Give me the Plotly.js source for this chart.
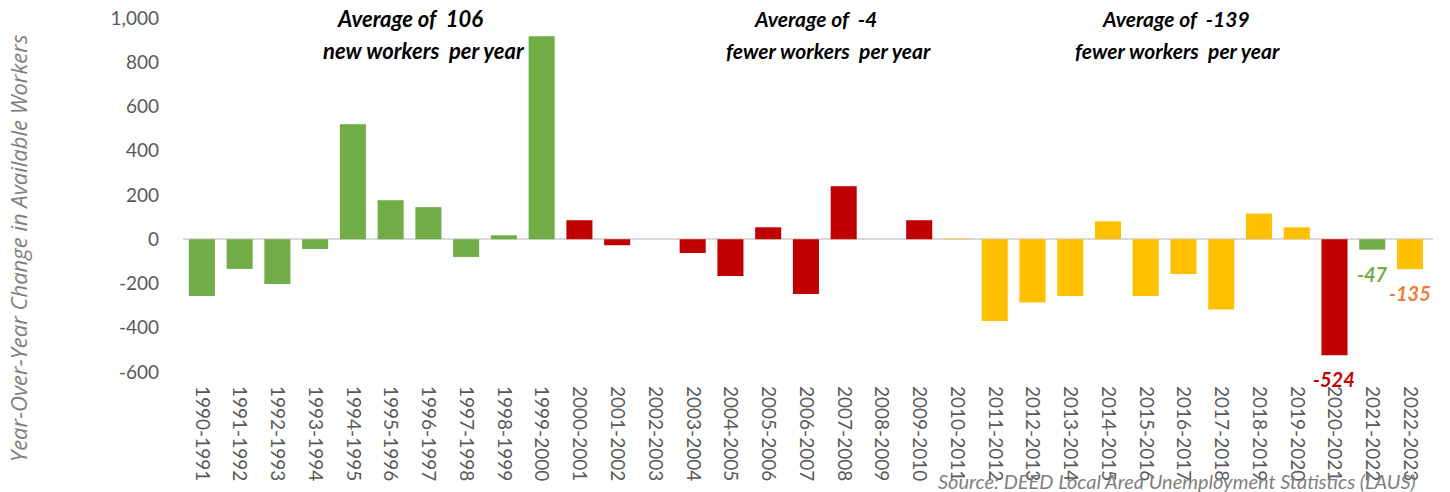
<!DOCTYPE html>
<html>
<head>
<meta charset="utf-8">
<script src="https://cdn.plot.ly/plotly-3.0.1.min.js"></script>
<style>html,body{margin:0;padding:0;background:#fff;}#chart{width:1450px;height:492px;}</style>
</head>
<body>
<div id="chart"></div>
<script>
const periods = ['1990-1991','1991-1992','1992-1993','1993-1994','1994-1995','1995-1996','1996-1997','1997-1998','1998-1999','1999-2000',
  '2000-2001','2001-2002','2002-2003','2003-2004','2004-2005','2005-2006','2006-2007','2007-2008','2008-2009','2009-2010',
  '2010-2011','2011-2012','2012-2013','2013-2014','2014-2015','2015-2016','2016-2017','2017-2018','2018-2019','2019-2020',
  '2020-2021','2021-2022','2022-2023'];
const changes = [-256,-134,-202,-44,520,176,145,-80,18,917,
  86,-27,0,-62,-166,54,-247,239,0,86,
  3,-369,-286,-256,81,-256,-157,-318,116,54,
  -524,-47,-135];
const decade = ['1990s','1990s','1990s','1990s','1990s','1990s','1990s','1990s','1990s','1990s',
  '2000s','2000s','2000s','2000s','2000s','2000s','2000s','2000s','2000s','2000s',
  '2010s','2010s','2010s','2010s','2010s','2010s','2010s','2010s','2010s','2010s',
  '2020','2021','2022'];
const yTicks = [-600,-400,-200,0,200,400,600,800,1000];
const labelledPeriods = ['2020-2021','2021-2022','2022-2023'];
const decadeGroups = ['1990s','2000s','2010s'];
const avgLine2 = ['new workers','fewer workers','fewer workers'];
const yTitle = 'Year-Over-Year Change in Available Workers';
const sourceNote = 'Source: DEED Local Area Unemployment Statistics (LAUS)';

const colorOf = {'1990s':'#70AD47','2000s':'#C00000','2010s':'#FFC000','2020':'#C00000','2021':'#70AD47','2022':'#FFC000'};
const labelColorOf = {'2020':'#C00000','2021':'#70AD47','2022':'#ED7D31'};

const trace = {
  type:'bar', x:periods, y:changes,
  marker:{color:decade.map(d=>colorOf[d])},
  hoverinfo:'x+y'
};

const L = 183, W = 1250, T = 18, H = 354;
const px = v => (v - L) / W;
const py = v => 1 - (v - T) / H;
const fmt = v => (v < 0 ? '-' : '') + Math.abs(v).toLocaleString('en-US');

const annotations = [];
const avgCenters = [[410,424],[815,828],[1176,1177]];
const avgSizes = [22,21,21];
decadeGroups.forEach((g,i)=>{
  const vals = changes.filter((v,k)=>decade[k]===g);
  const avg = Math.round(vals.reduce((a,b)=>a+b,0)/vals.length);
  const f = {family:'Lato, sans-serif', size:avgSizes[i], color:'#000', weight:700, style:'italic'};
  annotations.push({xref:'paper',yref:'paper',x:px(avgCenters[i][0]),y:py(18), yanchor:'middle', xanchor:'center', showarrow:false, text:'Average of  '+avg, font:f});
  annotations.push({xref:'paper',yref:'paper',x:px(avgCenters[i][1]),y:py(50), yanchor:'middle', xanchor:'center', showarrow:false, text:avgLine2[i]+'  per year', font:f});
});
labelledPeriods.forEach(p=>{
  const k = periods.indexOf(p);
  annotations.push({x:p, y:changes[k], yanchor:'middle', yshift:-24, showarrow:false, text:fmt(changes[k]),
    font:{family:'Lato, sans-serif', size:20, color:labelColorOf[decade[k]], weight:700, style:'italic'}});
});
annotations.push({xref:'paper',yref:'paper',x:px(1418),y:py(481),xanchor:'right',yanchor:'middle',showarrow:false,
  text:sourceNote, font:{family:'Lato, sans-serif', size:20, color:'#7F7F7F', style:'italic'}});
annotations.push({xref:'paper',yref:'paper',x:px(18),y:py(248),xanchor:'center',yanchor:'middle',showarrow:false,textangle:-90,
  text:yTitle, font:{family:'Open Sans, sans-serif', size:22, color:'#7F7F7F', style:'italic'}});

const layout = {
  width:1450, height:492,
  margin:{l:L, r:1450-L-W, t:T, b:492-T-H, pad:0},
  paper_bgcolor:'#fff', plot_bgcolor:'#fff',
  showlegend:false,
  bargap:0.31,
  xaxis:{type:'category', tickangle:90, showgrid:false, zeroline:false, showline:false, ticks:'',
    tickfont:{family:'Lato, sans-serif', size:19, color:'#595959'}, ticklabelstandoff:13, automargin:false},
  yaxis:{range:[-600,1000], tickmode:'array', tickvals:yTicks, ticktext:yTicks.map(fmt),
    showgrid:false, zeroline:true, zerolinecolor:'#D9D9D9', zerolinewidth:2,
    showline:false, ticks:'', ticklabelstandoff:23, automargin:false,
    tickfont:{family:'Lato, sans-serif', size:19, color:'#595959'}},
  annotations:annotations
};
Plotly.newPlot('chart',[trace],layout,{displayModeBar:false, staticPlot:true});
</script>
</body>
</html>
